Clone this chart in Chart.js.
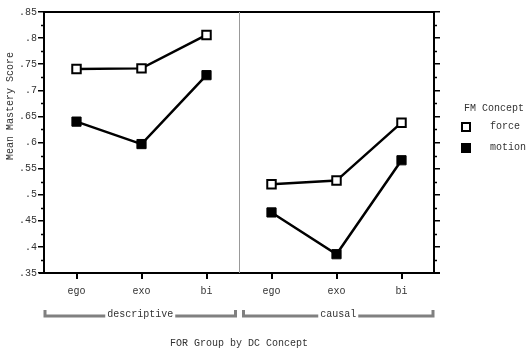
<!DOCTYPE html>
<html>
<head>
<meta charset="utf-8">
<script src="https://cdn.jsdelivr.net/npm/chart.js@4/dist/chart.umd.min.js"></script>
<style>
  html, body { margin: 0; padding: 0; background: #fff; }
  #wrap { width: 530px; height: 349px; }
</style>
</head>
<body>
<div id="wrap"><canvas id="c" width="530" height="349"></canvas></div>
<script>
const categories = ['ego', 'exo', 'bi', 'ego', 'exo', 'bi'];
const groups = ['descriptive', 'causal'];
const force = [0.741, 0.742, 0.806, 0.520, 0.527, 0.638];
const motion = [0.640, 0.597, 0.729, 0.466, 0.386, 0.566];
const yTicks = [0.35, 0.40, 0.45, 0.50, 0.55, 0.60, 0.65, 0.70, 0.75, 0.80, 0.85];
const legendTitle = 'FM Concept';
const xTitle = 'FOR Group by DC Concept';
const yTitle = 'Mean Mastery Score';

const FONT = "'Liberation Mono', 'DejaVu Sans Mono', monospace";
const TXT = '#333';

function fmt(v) {
  return Number(v.toFixed(3)).toString().replace(/^0/, '');
}

const breakSeg = {
  borderColor: ctx => (ctx.p0DataIndex === 2 ? 'rgba(0,0,0,0)' : undefined)
};

const extras = {
  id: 'extras',
  afterDraw(chart) {
    const ctx = chart.ctx;
    const ca = chart.chartArea;
    const xs = chart.scales.x, ys = chart.scales.y;
    ctx.save();
    // top border
    ctx.strokeStyle = '#000';
    ctx.lineWidth = 2;
    ctx.beginPath();
    ctx.moveTo(ca.left - 1, ca.top);
    ctx.lineTo(ca.right + 1, ca.top);
    ctx.stroke();
    // bottom line extension
    ctx.beginPath();
    ctx.moveTo(ca.left - 5, ca.bottom);
    ctx.lineTo(ca.right + 6, ca.bottom);
    ctx.stroke();
    // minor ticks
    ctx.lineWidth = 1.5;
    for (let i = 0; i < yTicks.length - 1; i++) {
      const v = (yTicks[i] + yTicks[i + 1]) / 2;
      const py = Math.round(ys.getPixelForValue(v)) + 0.5;
      ctx.beginPath();
      ctx.moveTo(ca.left - 3, py);
      ctx.lineTo(ca.left, py);
      ctx.moveTo(ca.right, py);
      ctx.lineTo(ca.right + 3, py);
      ctx.stroke();
    }
    // divider
    const mid = (xs.getPixelForTick(2) + xs.getPixelForTick(3)) / 2;
    ctx.strokeStyle = '#999';
    ctx.lineWidth = 1;
    ctx.beginPath();
    ctx.moveTo(Math.round(mid) + 0.5, ca.top);
    ctx.lineTo(Math.round(mid) + 0.5, ca.bottom);
    ctx.stroke();
    // group brackets
    const by = 316;
    const spans = [[ca.left + 1, mid - 3.5], [mid + 4.5, ca.right - 1]];
    ctx.font = '10px ' + FONT;
    ctx.textAlign = 'center';
    ctx.textBaseline = 'middle';
    spans.forEach((s, i) => {
      ctx.strokeStyle = '#808080';
      ctx.lineWidth = 3;
      ctx.beginPath();
      ctx.moveTo(s[0], by - 6);
      ctx.lineTo(s[0], by);
      ctx.lineTo(s[1], by);
      ctx.lineTo(s[1], by - 6);
      ctx.stroke();
      const cx = (s[0] + s[1]) / 2;
      const w = ctx.measureText(groups[i]).width;
      ctx.fillStyle = '#fff';
      ctx.fillRect(cx - w / 2 - 2, by - 6, w + 4, 10);
      ctx.fillStyle = TXT;
      ctx.fillText(groups[i], cx, by - 2);
    });
    // x title
    ctx.fillStyle = TXT;
    ctx.fillText(xTitle, (ca.left + ca.right) / 2, 343);
    // y title
    ctx.save();
    ctx.translate(10, 106);
    ctx.rotate(-Math.PI / 2);
    ctx.fillText(yTitle, 0, 0);
    ctx.restore();
    // legend
    ctx.textAlign = 'left';
    ctx.fillText(legendTitle, 464, 108);
    const items = chart.data.datasets;
    items.forEach((ds, i) => {
      const ly = 127 + i * 21;
      const s = 8;
      ctx.lineWidth = 2;
      ctx.strokeStyle = ds.pointBorderColor;
      ctx.fillStyle = ds.pointBackgroundColor;
      ctx.fillRect(466 - s / 2, ly - s / 2, s, s);
      ctx.strokeRect(466 - s / 2, ly - s / 2, s, s);
      ctx.fillStyle = TXT;
      ctx.fillText(ds.label, 490, ly - 1);
    });
    ctx.restore();
  }
};

new Chart(document.getElementById('c'), {
  type: 'line',
  data: {
    labels: categories,
    datasets: [
      {
        label: 'force',
        data: force,
        borderColor: '#000',
        borderWidth: 2.5,
        pointStyle: 'rect',
        pointRadius: 6,
        pointHoverRadius: 6,
        pointBackgroundColor: '#fff',
        pointBorderColor: '#000',
        pointBorderWidth: 2,
        segment: breakSeg,
        tension: 0
      },
      {
        label: 'motion',
        data: motion,
        borderColor: '#000',
        borderWidth: 2.5,
        pointStyle: 'rect',
        pointRadius: 6.5,
        pointHoverRadius: 6.5,
        pointBackgroundColor: '#000',
        pointBorderColor: '#000',
        pointBorderWidth: 1,
        segment: breakSeg,
        tension: 0
      }
    ]
  },
  options: {
    responsive: false,
    animation: false,
    devicePixelRatio: 1,
    layout: { padding: { top: 12, right: 0, left: 0, bottom: 0 } },
    plugins: {
      legend: { display: false },
      tooltip: { enabled: false }
    },
    scales: {
      x: {
        type: 'category',
        offset: true,
        position: 'bottom',
        grid: { display: true, drawOnChartArea: false, drawTicks: true, tickLength: 6, color: '#000', lineWidth: 2 },
        border: { display: true, color: '#000', width: 2 },
        ticks: { color: TXT, font: { family: FONT, size: 10 }, padding: 6, maxRotation: 0 },
        afterFit: s => { s.height = 76; }
      },
      y: {
        position: 'left',
        min: 0.35,
        max: 0.85,
        afterBuildTicks: s => { s.ticks = yTicks.map(v => ({ value: v })); },
        grid: { display: true, drawOnChartArea: false, drawTicks: true, tickLength: 6, color: '#000', lineWidth: 1.5 },
        border: { display: true, color: '#000', width: 2 },
        ticks: { color: TXT, font: { family: FONT, size: 10 }, padding: 1, callback: v => fmt(v) },
        afterFit: s => { s.width = 44; }
      },
      y2: {
        position: 'right',
        min: 0.35,
        max: 0.85,
        afterBuildTicks: s => { s.ticks = yTicks.map(v => ({ value: v })); },
        grid: { display: true, drawOnChartArea: false, drawTicks: true, tickLength: 6, color: '#000', lineWidth: 1.5 },
        border: { display: true, color: '#000', width: 2 },
        ticks: { display: false },
        afterFit: s => { s.width = 96; }
      }
    }
  },
  plugins: [extras]
});
</script>
</body>
</html>
